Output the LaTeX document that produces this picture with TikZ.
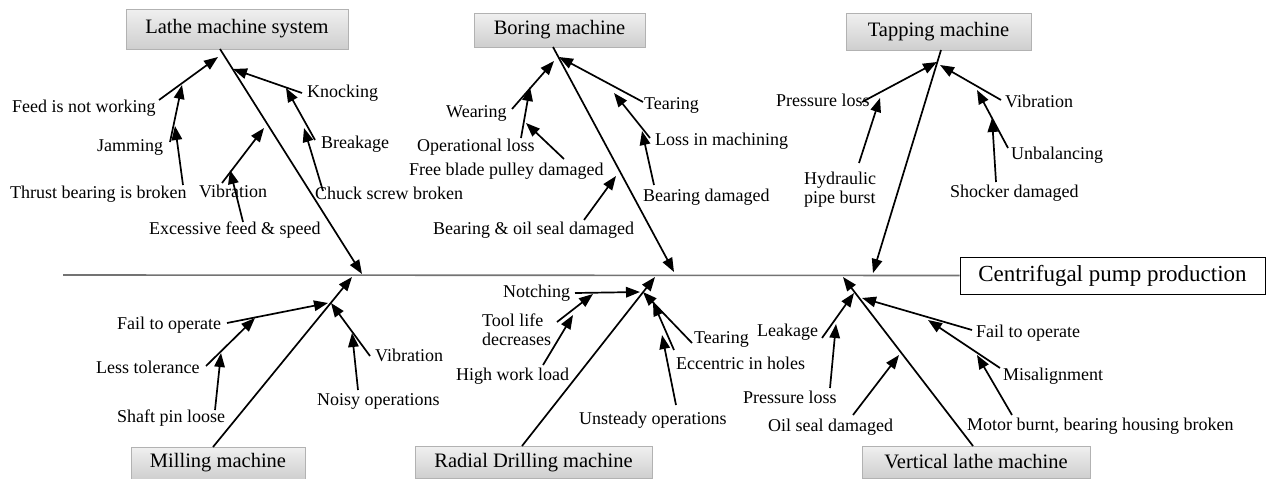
\documentclass[tikz,border=0pt]{standalone}
\usepackage{fontspec}
\setmainfont{Liberation Serif}
\usetikzlibrary{arrows.meta}
\tikzset{
  lbl/.style={font=\fontsize{18}{19}\selectfont, inner sep=0pt, anchor=west, text height=12.5pt, text depth=4pt},
  lbltwo/.style={font=\fontsize{18}{19}\selectfont, inner sep=0pt, anchor=west, align=left},
  catbox/.style={draw=gray!60, line width=0.8pt, top color=gray!12, bottom color=gray!38, inner sep=0pt, font=\fontsize{20.5}{22}\selectfont},
  effbox/.style={draw=black, line width=1pt, fill=white, inner sep=0pt, font=\fontsize{23}{25}\selectfont},
  arr/.style={line width=1.7pt, -{Triangle[length=14pt,width=10.5pt]}},
  spineline/.style={draw=gray!90!black, line width=1.6pt}
}
\begin{document}
\begin{tikzpicture}[x=1pt,y=-1pt]
\useasboundingbox (0,0) rectangle (1266,479);
% effect box and spine
\node[effbox, minimum width=305pt, minimum height=37pt] (effect) at (1112.5,275.5) {Centrifugal pump production};
\coordinate (spinestart) at (63,275);
\draw[spineline] (spinestart) -- (effect.west);
% category boxes
\node[catbox, minimum width=222pt, minimum height=40pt] (lathe) at (237,29) {Lathe machine system};
\node[catbox, minimum width=171pt, minimum height=34pt] (boring) at (559.5,30) {Boring machine};
\node[catbox, minimum width=185pt, minimum height=37pt] (tapping) at (938.5,31.5) {Tapping machine};
\node[catbox, minimum width=174pt, minimum height=32pt] (milling) at (218,463) {Milling machine};
\node[catbox, minimum width=237pt, minimum height=32pt] (radial) at (533.5,462.5) {Radial Drilling machine};
\node[catbox, minimum width=228pt, minimum height=32pt] (vertical) at (976,462) {Vertical lathe machine};
% main bones
\coordinate (latheS) at (220,49);  \coordinate (latheT) at (362,274);
\coordinate (boringS) at (553,47); \coordinate (boringT) at (674,272);
\coordinate (tappingS) at (941,50); \coordinate (tappingT) at (873,273);
\coordinate (millingS) at (213,447); \coordinate (millingT) at (352,277);
\coordinate (radialS) at (522,446); \coordinate (radialT) at (655,277);
\coordinate (verticalS) at (973,446); \coordinate (verticalT) at (843,277);
\draw[arr] (latheS) -- (latheT);
\draw[arr] (boringS) -- (boringT);
\draw[arr] (tappingS) -- (tappingT);
\draw[arr] (millingS) -- (millingT);
\draw[arr] (radialS) -- (radialT);
\draw[arr] (verticalS) -- (verticalT);
% ---------- Lathe ----------
\node[lbl] (l1) at (12,108) {Feed is not working};
\node[lbl] (l2) at (97,147) {Jamming};
\node[lbl] (l3) at (10,194) {Thrust bearing is broken};
\node[lbl] (l4) at (307,93) {Knocking};
\node[lbl] (l5) at (321,144) {Breakage};
\node[lbl] (l6) at (315,195) {Chuck screw broken};
\node[lbl] (l7) at (199,193) {Vibration};
\node[lbl] (l8) at (149,230) {Excessive feed \& speed};
\coordinate (l1a) at (159,100); \coordinate (l1b) at (218,57);
\coordinate (l2a) at (170,142); \coordinate (l2b) at (182,85);
\coordinate (l3a) at (183,185); \coordinate (l3b) at (175,126);
\coordinate (l4a) at (302,93);  \coordinate (l4b) at (233,69);
\coordinate (l5a) at (315,140); \coordinate (l5b) at (286,88);
\coordinate (l6a) at (323,191); \coordinate (l6b) at (304,128);
\coordinate (l7a) at (222,183); \coordinate (l7b) at (264,128);
\coordinate (l8a) at (243,222); \coordinate (l8b) at (230,170);
\foreach \i in {1,...,8} {\draw[arr] (l\i a) -- (l\i b);}
% ---------- Boring ----------
\node[lbl] (b1) at (446,113) {Wearing};
\node[lbl] (b2) at (417,147) {Operational loss};
\node[lbl] (b3) at (409,171) {Free blade pulley damaged};
\node[lbl] (b4) at (433,230) {Bearing \& oil seal damaged};
\node[lbl] (b5) at (644,105) {Tearing};
\node[lbl] (b6) at (655,141) {Loss in machining};
\node[lbl] (b7) at (643,197) {Bearing damaged};
\coordinate (b1a) at (512,109); \coordinate (b1b) at (554,61);
\coordinate (b2a) at (521,138); \coordinate (b2b) at (530,87);
\coordinate (b3a) at (564,159); \coordinate (b3b) at (526,123);
\coordinate (b4a) at (584,220); \coordinate (b4b) at (616,176);
\coordinate (b5a) at (643,102); \coordinate (b5b) at (559,57);
\coordinate (b6a) at (650,138); \coordinate (b6b) at (614,93);
\coordinate (b7a) at (654,185); \coordinate (b7b) at (642,131);
\foreach \i in {1,...,7} {\draw[arr] (b\i a) -- (b\i b);}
% ---------- Tapping ----------
\node[lbl] (t1) at (776,102) {Pressure loss};
\node[lbltwo] (t2) at (804,189.5) {Hydraulic\\pipe burst};
\node[lbl] (t3) at (1005,103) {Vibration};
\node[lbl] (t4) at (1011,155) {Unbalancing};
\node[lbl] (t5) at (950,193) {Shocker damaged};
\coordinate (t1a) at (862,102);  \coordinate (t1b) at (937,62);
\coordinate (t2a) at (859,163);  \coordinate (t2b) at (880,98);
\coordinate (t3a) at (1001,100); \coordinate (t3b) at (940,65);
\coordinate (t4a) at (1008,148); \coordinate (t4b) at (977,90);
\coordinate (t5a) at (996,182);  \coordinate (t5b) at (992,118);
\foreach \i in {1,...,5} {\draw[arr] (t\i a) -- (t\i b);}
% ---------- Milling ----------
\node[lbl] (m1) at (117,325) {Fail to operate};
\node[lbl] (m2) at (96,369) {Less tolerance};
\node[lbl] (m3) at (117,418) {Shaft pin loose};
\node[lbl] (m4) at (375,357) {Vibration};
\node[lbl] (m5) at (317,401) {Noisy operations};
\coordinate (m1a) at (227,323); \coordinate (m1b) at (328,303);
\coordinate (m2a) at (206,366); \coordinate (m2b) at (255,318);
\coordinate (m3a) at (215,410); \coordinate (m3b) at (221,353);
\coordinate (m4a) at (370,356); \coordinate (m4b) at (331,303);
\coordinate (m5a) at (358,390); \coordinate (m5b) at (352,333);
\foreach \i in {1,...,5} {\draw[arr] (m\i a) -- (m\i b);}
% ---------- Radial ----------
\node[lbl] (r1) at (503,293) {Notching};
\node[lbltwo] (r2) at (482,329.5) {Tool life\\decreases};
\node[lbl] (r3) at (456,376) {High work load};
\node[lbl] (r4) at (694,339) {Tearing};
\node[lbl] (r5) at (676,365) {Eccentric in holes};
\node[lbl] (r6) at (579,420) {Unsteady operations};
\coordinate (r1a) at (575,293); \coordinate (r1b) at (640,292);
\coordinate (r2a) at (557,322); \coordinate (r2b) at (593,294);
\coordinate (r3a) at (543,365); \coordinate (r3b) at (573,315);
\coordinate (r4a) at (692,343); \coordinate (r4b) at (643,292);
\coordinate (r5a) at (674,350); \coordinate (r5b) at (653,302);
\coordinate (r6a) at (676,405); \coordinate (r6b) at (662,335);
\foreach \i in {1,...,6} {\draw[arr] (r\i a) -- (r\i b);}
% ---------- Vertical lathe ----------
\node[lbl] (v1) at (757,332) {Leakage};
\node[lbl] (v2) at (743,399) {Pressure loss};
\node[lbl] (v3) at (768,427) {Oil seal damaged};
\node[lbl] (v4) at (976,333) {Fail to operate};
\node[lbl] (v5) at (1003,376) {Misalignment};
\node[lbl] (v6) at (967,426) {Motor burnt, bearing housing broken};
\coordinate (v1a) at (822,338);  \coordinate (v1b) at (854,293);
\coordinate (v2a) at (830,388);  \coordinate (v2b) at (836,324);
\coordinate (v3a) at (853,415);  \coordinate (v3b) at (899,355);
\coordinate (v4a) at (972,330);  \coordinate (v4b) at (862,298);
\coordinate (v5a) at (1000,368); \coordinate (v5b) at (928,320);
\coordinate (v6a) at (1012,415); \coordinate (v6b) at (977,355);
\foreach \i in {1,...,6} {\draw[arr] (v\i a) -- (v\i b);}
\end{tikzpicture}
\end{document}
